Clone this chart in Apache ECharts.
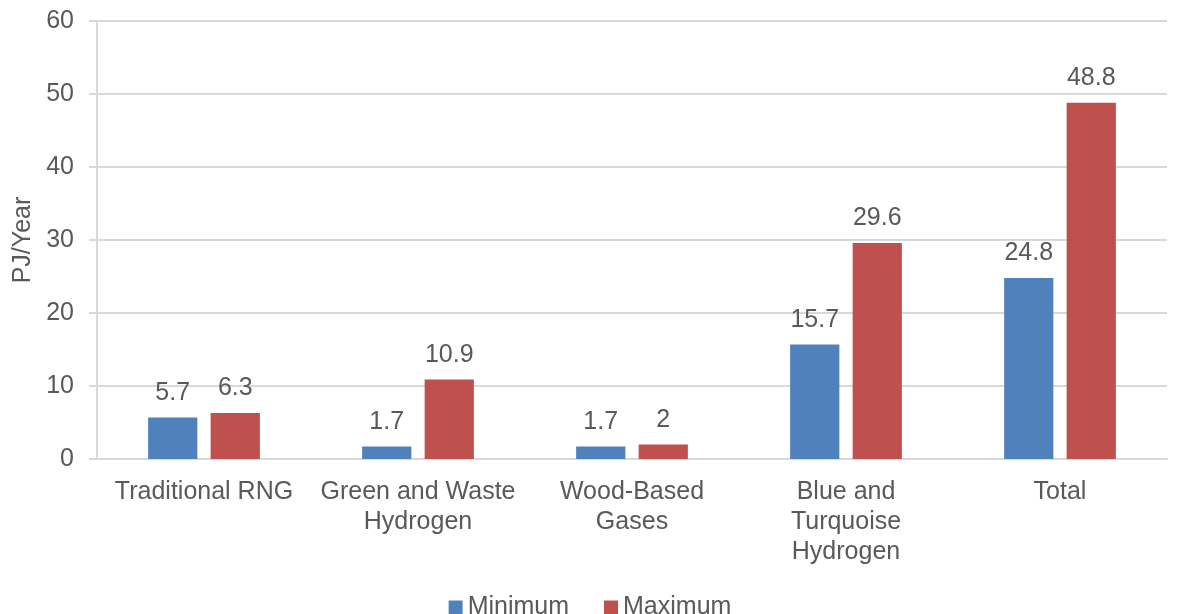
<!DOCTYPE html>
<html>
<head>
<meta charset="utf-8">
<script src="https://cdn.jsdelivr.net/npm/echarts@6/dist/echarts.min.js"></script>
<style>
html, body { margin: 0; padding: 0; background: #fff; }
#chart { width: 1180px; height: 614px; }
</style>
</head>
<body>
<div id="chart"></div>
<script>
var categories = ['Traditional RNG', 'Green and Waste\nHydrogen', 'Wood-Based\nGases', 'Blue and\nTurquoise\nHydrogen', 'Total'];
var minValues = [5.7, 1.7, 1.7, 15.7, 24.8];
var maxValues = [6.3, 10.9, 2, 29.6, 48.8];
var yTicks = [0, 10, 20, 30, 40, 50, 60];

var textColor = '#595959';
var font = '"Liberation Sans", Arial, sans-serif';

var myChart = echarts.init(document.getElementById('chart'));
var option = {
    animation: false,
    textStyle: { fontFamily: font },
    grid: {
        left: 97,
        right: 13,
        top: 21,
        bottom: 155,
        containLabel: false,
        outerBoundsMode: 'none'
    },
    legend: {
        bottom: -11,
        left: 'center',
        itemWidth: 14,
        itemHeight: 14,
        itemGap: 35,
        icon: 'rect',
        textStyle: { color: textColor, fontSize: 25, fontFamily: font },
        data: ['Minimum', 'Maximum']
    },
    xAxis: [{
        type: 'category',
        data: categories,
        axisLine: { lineStyle: { color: '#D9D9D9', width: 2 } },
        axisTick: { show: false },
        axisLabel: {
            color: textColor,
            fontSize: 25,
            lineHeight: 30,
            margin: 18,
            interval: 0,
            fontFamily: font
        }
    }],
    yAxis: [{
        type: 'value',
        min: yTicks[0],
        max: yTicks[yTicks.length - 1],
        interval: 10,
        name: 'PJ/Year',
        nameLocation: 'middle',
        nameGap: 61,
        nameTextStyle: { color: textColor, fontSize: 25, fontFamily: font },
        axisLine: { show: true, lineStyle: { color: '#D9D9D9', width: 2 } },
        axisTick: { show: true, length: 8, lineStyle: { color: '#D9D9D9', width: 2 } },
        splitLine: { lineStyle: { color: '#D9D9D9', width: 2 } },
        axisLabel: { color: textColor, fontSize: 25, margin: 23, fontFamily: font }
    }],
    series: [{
        name: 'Minimum',
        type: 'bar',
        data: minValues,
        barWidth: '23%',
        barGap: '27%',
        itemStyle: { color: '#4F81BD' },
        label: {
            show: true,
            position: 'top',
            distance: 12,
            color: textColor,
            fontSize: 25,
            fontFamily: font
        }
    }, {
        name: 'Maximum',
        type: 'bar',
        data: maxValues,
        barWidth: '23%',
        itemStyle: { color: '#C0504D' },
        label: {
            show: true,
            position: 'top',
            distance: 12,
            color: textColor,
            fontSize: 25,
            fontFamily: font
        }
    }]
};
myChart.setOption(option);
</script>
</body>
</html>
